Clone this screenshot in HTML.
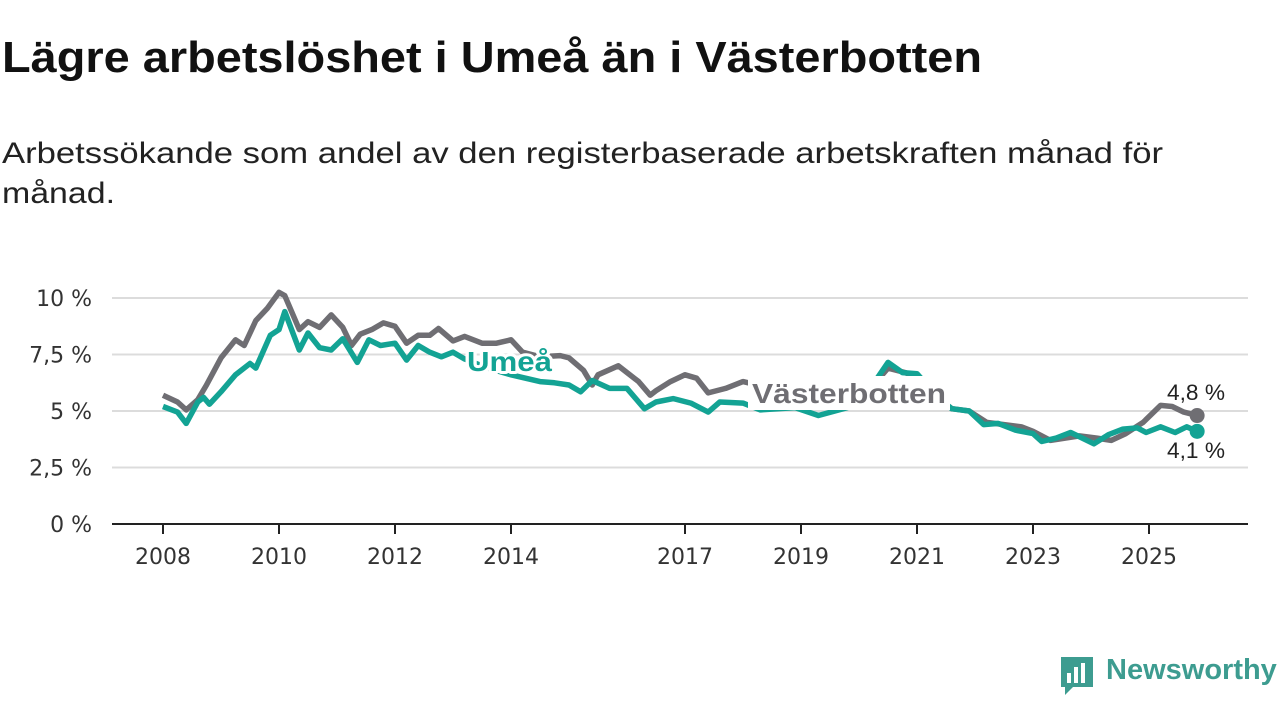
<!DOCTYPE html>
<html><head><meta charset="utf-8">
<style>
body{margin:0;background:#fff;font-family:"Liberation Sans",sans-serif;}
#wrap{position:relative;width:1280px;height:720px;overflow:hidden;}
</style></head><body>
<div id="wrap">
<svg width="1280" height="230" style="position:absolute;left:0;top:0">
<text x="2" y="72" font-size="44" font-weight="bold" fill="#111" font-family="Liberation Sans, sans-serif" textLength="980" lengthAdjust="spacingAndGlyphs">Lägre arbetslöshet i Umeå än i Västerbotten</text>
<text x="2" y="163" font-size="30" fill="#222" font-family="Liberation Sans, sans-serif" textLength="1161" lengthAdjust="spacingAndGlyphs">Arbetssökande som andel av den registerbaserade arbetskraften månad för</text>
<text x="2" y="203" font-size="30" fill="#222" font-family="Liberation Sans, sans-serif" textLength="113" lengthAdjust="spacingAndGlyphs">månad.</text>
</svg>
<svg id="chart" width="1280" height="720" style="position:absolute;left:0;top:0"></svg>
</div>
<script>
const yTicks=[0,2.5,5,7.5,10];
const yTickLabels=["0 %","2,5 %","5 %","7,5 %","10 %"];
const xTicks=[2008,2010,2012,2014,2017,2019,2021,2023,2025];
const vbDates=[2008,2008.25,2008.4,2008.6,2008.75,2009,2009.25,2009.4,2009.6,2009.8,2010,2010.1,2010.35,2010.5,2010.7,2010.9,2011.1,2011.25,2011.4,2011.6,2011.8,2012,2012.2,2012.4,2012.6,2012.75,2013,2013.2,2013.5,2013.75,2014,2014.2,2014.5,2014.85,2015,2015.25,2015.4,2015.5,2015.85,2016.2,2016.4,2016.5,2016.75,2017,2017.2,2017.4,2017.7,2018,2018.5,2019,2019.5,2020,2020.3,2020.5,2020.8,2021.1,2021.4,2021.6,2021.9,2022.2,2022.5,2022.8,2023,2023.3,2023.55,2023.8,2024.1,2024.35,2024.6,2024.9,2025.2,2025.4,2025.6,2025.83];
const vbValues=[5.7,5.4,5.05,5.5,6.15,7.35,8.15,7.9,9.0,9.55,10.25,10.1,8.6,8.95,8.7,9.25,8.7,7.9,8.4,8.6,8.9,8.75,8.0,8.35,8.35,8.65,8.1,8.3,8.0,8.0,8.15,7.6,7.4,7.45,7.35,6.8,6.15,6.6,7.0,6.3,5.7,5.9,6.3,6.6,6.45,5.8,6.0,6.3,6.0,5.8,5.7,5.8,6.3,6.9,6.7,6.3,5.5,5.1,5.0,4.5,4.4,4.3,4.1,3.7,3.8,3.9,3.8,3.7,4.0,4.5,5.25,5.2,4.95,4.8];
const umDates=[2008,2008.25,2008.4,2008.6,2008.7,2008.8,2009,2009.25,2009.5,2009.6,2009.85,2010,2010.1,2010.35,2010.5,2010.7,2010.9,2011.1,2011.35,2011.55,2011.75,2012,2012.2,2012.4,2012.6,2012.8,2013,2013.2,2013.6,2014,2014.5,2014.75,2015,2015.2,2015.4,2015.7,2016,2016.3,2016.5,2016.8,2017.1,2017.4,2017.6,2018,2018.3,2018.9,2019.3,2019.8,2020.1,2020.3,2020.5,2020.75,2021,2021.4,2021.6,2021.9,2022.15,2022.4,2022.7,2023,2023.15,2023.4,2023.65,2023.85,2024.05,2024.3,2024.55,2024.8,2024.95,2025.2,2025.45,2025.65,2025.83];
const umValues=[5.2,4.95,4.45,5.4,5.6,5.3,5.85,6.6,7.1,6.9,8.35,8.6,9.4,7.7,8.45,7.8,7.7,8.2,7.15,8.15,7.9,8.0,7.25,7.9,7.6,7.4,7.6,7.3,6.9,6.6,6.3,6.25,6.15,5.85,6.35,6.0,6.0,5.1,5.4,5.55,5.35,4.95,5.4,5.35,5.05,5.15,4.8,5.15,5.6,6.4,7.15,6.7,6.65,5.5,5.1,5.0,4.4,4.45,4.15,4.0,3.65,3.8,4.05,3.8,3.55,3.95,4.2,4.25,4.05,4.3,4.05,4.3,4.1];
const NS="http://www.w3.org/2000/svg";
const svg=document.getElementById('chart');
const X=t=>163+58*(t-2008);
const Y=v=>524-22.6*v;
function el(tag,attrs,parent){const e=document.createElementNS(NS,tag);for(const k in attrs)e.setAttribute(k,attrs[k]);(parent||svg).appendChild(e);return e;}
yTicks.forEach((v,i)=>{
  if(v>0){const g=el('line',{x1:112,x2:1248,y1:Y(v),y2:Y(v),stroke:'#dcdcdc','stroke-width':2});
  
  }
  const t=el('text',{x:92,y:Y(v)+8,'text-anchor':'end','font-size':22,fill:'#333','font-family':'DejaVu Sans, sans-serif'});
  t.textContent=yTickLabels[i];
  
  
});
const ax=el('line',{x1:112,x2:1248,y1:Y(0),y2:Y(0),stroke:'#222','stroke-width':2});


xTicks.forEach(yr=>{
  const tk=el('line',{x1:X(yr),x2:X(yr),y1:Y(0),y2:Y(0)+10,stroke:'#222','stroke-width':2});
  
  
  const t=el('text',{x:X(yr),y:564,'text-anchor':'middle','font-size':22,fill:'#333','font-family':'DejaVu Sans, sans-serif'});
  t.textContent=yr;
  
  
});
function line(d,v,c,name){
  const pts=d.map((t,i)=>X(t).toFixed(1)+','+Y(v[i]).toFixed(1)).join(' ');
  const p=el('polyline',{points:pts,fill:'none',stroke:c,'stroke-width':5.5,'stroke-linejoin':'round'});
  
  
  const n=d.length-1;
  const dot=el('circle',{cx:X(d[n]),cy:Y(v[n]),r:7.5,fill:c});
  
  
}
line(vbDates,vbValues,'#6f6e73','vasterbotten-line');
line(umDates,umValues,'#13a394','umea-line');
function label(txt,x,y,c,size,weight,name,len){
  const a={x:x,y:y,'font-size':size,'font-weight':weight,fill:c,stroke:'#fff','stroke-width':6,'paint-order':'stroke','stroke-linejoin':'round','font-family':'Liberation Sans, sans-serif'};
  if(len){a.textLength=len;a.lengthAdjust='spacingAndGlyphs';}
  const t=el('text',a);
  t.textContent=txt;
  
  
}
label('Umeå',467,371,'#13a394',28,'bold','umea-series-label',85);
const r=el('rect',{x:748,y:376,width:202,height:34,fill:'#fff'});


label('Västerbotten',752,403,'#6f6e73',28,'bold','vasterbotten-series-label',194);
label('4,8 %',1167,400,'#222',22,'normal','vasterbotten-end-value',58);
label('4,1 %',1167,458,'#222',22,'normal','umea-end-value',58);
</script>
<div style="position:absolute;left:1059px;top:655px;width:221px;height:42px">
<svg width="36" height="42" style="position:absolute;left:0;top:0">
<path d="M2 2 H34 V32 H14 L6 40 V32 H2 Z" fill="#3d9c90"/>
<rect x="8" y="18" width="4" height="10" fill="#fff"/><rect x="15" y="12" width="4" height="16" fill="#fff"/><rect x="22" y="8" width="4" height="20" fill="#fff"/>
</svg>
<span style="position:absolute;left:47px;top:-1px;font-size:29px;font-weight:bold;color:#3d9c90;font-family:'Liberation Sans',sans-serif">Newsworthy</span>
</div>
</body></html>
